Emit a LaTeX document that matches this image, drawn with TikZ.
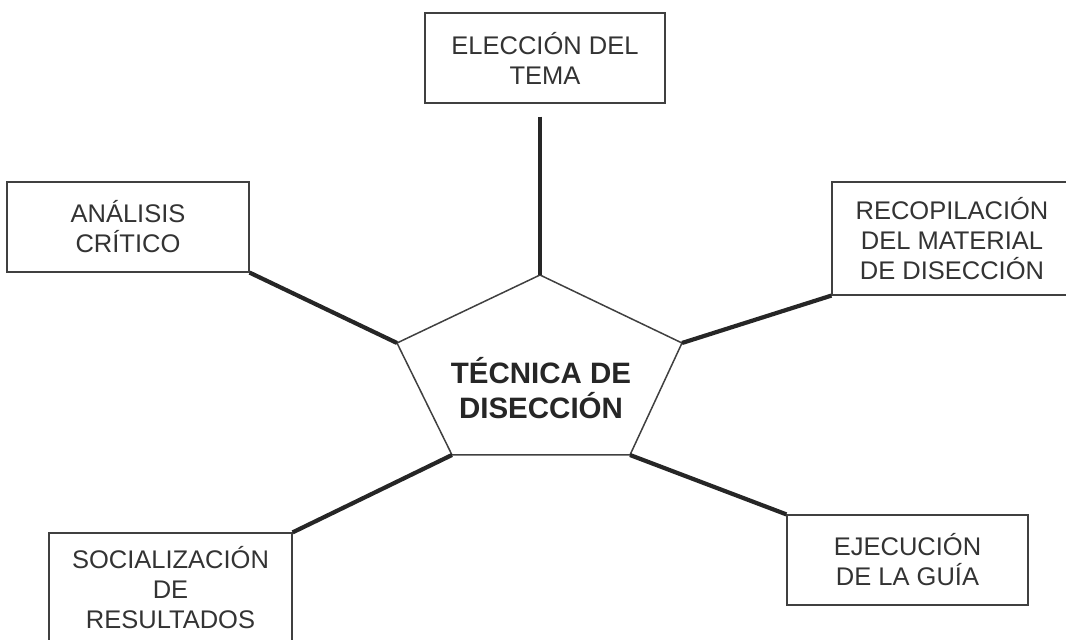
\documentclass[tikz,border=0pt]{standalone}
\usepackage{fontspec}
\setmainfont{Liberation Sans}
\begin{document}
\begin{tikzpicture}[x=1pt,y=1pt,
  boxnode/.style={draw=black!75,line width=1.2pt,rectangle,align=center,
    font=\fontsize{25.5}{30}\selectfont,text=black!80,inner sep=0pt},
  conn/.style={draw=black!85,line width=4.2pt},
  pentline/.style={draw=black!75,line width=1.5pt}]
\useasboundingbox (0,0) rectangle (1066,640);
% pentagon
\coordinate (p1) at (540,365);
\coordinate (p2) at (682,297);
\coordinate (p3) at (630,185);
\coordinate (p4) at (452,185);
\coordinate (p5) at (397,297);
\draw[pentline,line join=miter] (p1) -- (p2) -- (p3) -- (p4) -- (p5) -- cycle;
\node[align=center,font=\fontsize{29.5}{35}\selectfont\bfseries,text=black!85] (core) at (541,252) {TÉCNICA DE\\DISECCIÓN};
% boxes
\node[boxnode,minimum width=240pt,minimum height=90pt] (top) at (545,582) {ELECCIÓN DEL\\TEMA};
\node[boxnode,minimum width=242pt,minimum height=90pt] (ana) at (128,413) {ANÁLISIS\\CRÍTICO};
\node[boxnode,minimum width=240pt,minimum height=113pt] (rec) at (952,401.5) {RECOPILACIÓN\\DEL MATERIAL\\DE DISECCIÓN};
\node[boxnode,minimum width=243pt,minimum height=110pt] (soc) at (170.5,52) {SOCIALIZACIÓN\\DE\\RESULTADOS};
\node[boxnode,minimum width=241pt,minimum height=90pt] (eje) at (907.5,80) {EJECUCIÓN\\DE LA GUÍA};
% connectors
\path (top.south) ++(0,-13) coordinate (tc);
\draw[conn] (tc -| p1) -- (p1);
\draw[conn] (ana.south east) -- (p5);
\draw[conn] (rec.south west) -- (p2);
\draw[conn] (soc.north east) -- (p4);
\draw[conn] (eje.north west) -- (p3);
\end{tikzpicture}
\end{document}
